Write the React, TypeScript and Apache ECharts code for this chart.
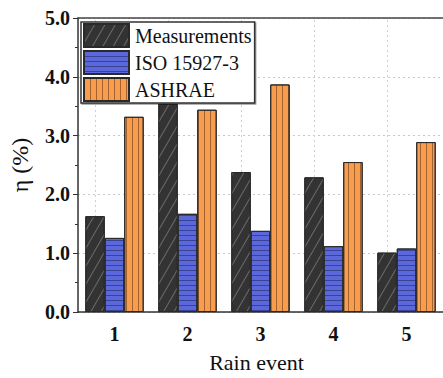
import React, { useEffect, useRef } from "react";
import * as echarts from "echarts";

const categories = ["1", "2", "3", "4", "5"];
const measurements = [1.63, 3.54, 2.38, 2.29, 1.01];
const iso = [1.26, 1.67, 1.38, 1.12, 1.08];
const ashrae = [3.32, 3.44, 3.87, 2.55, 2.89];
const seriesNames = ["Measurements", "ISO 15927-3", "ASHRAE"];

const FONT = "Liberation Serif";

export default function App() {
  const ref = useRef<HTMLDivElement>(null);
  useEffect(() => {
    if (!ref.current) return;
    const chart = echarts.init(ref.current, undefined, { renderer: "svg" });
    const border = { borderColor: "#2a2a2a", borderWidth: 1 };
    chart.setOption({
      animation: false,
      backgroundColor: "#ffffff",
      textStyle: { fontFamily: FONT },
      grid: { left: 76, top: 18, bottom: 58, right: -8, containLabel: false },
      legend: {
        left: 81,
        top: 22,
        orient: "vertical",
        icon: "rect",
        itemWidth: 45,
        itemHeight: 23,
        itemGap: 2,
        padding: [1, 3, 1, 2],
        borderColor: "#333",
        borderWidth: 1.5,
        backgroundColor: "#fff",
        shadowColor: "rgba(0,0,0,0.4)",
        shadowOffsetX: 1,
        shadowOffsetY: 1,
        shadowBlur: 0,
        textStyle: { fontFamily: FONT, fontSize: 20, color: "#111", padding: [0, 0, 0, 1] },
        data: seriesNames,
      },
      xAxis: [
        {
          type: "category",
          data: categories,
          position: "bottom",
          axisLine: { lineStyle: { color: "#333", width: 1.5 } },
          axisTick: { alignWithLabel: true, length: 5, lineStyle: { color: "#333" } },
          axisLabel: { fontFamily: FONT, fontSize: 20, fontWeight: "bold", color: "#111", margin: 12 },
          name: "Rain event",
          nameLocation: "middle",
          nameGap: 39,
          nameTextStyle: { fontFamily: FONT, fontSize: 22, color: "#111", padding: [0, 0, 0, -8] },
          splitLine: { show: false },
        },
        {
          type: "category",
          data: categories,
          position: "top",
          axisLine: { lineStyle: { color: "#444", width: 1.5 } },
          axisTick: { show: false },
          axisLabel: { show: false },
        },
      ],
      yAxis: {
        type: "value",
        min: 0,
        max: 5,
        interval: 1,
        axisLine: { show: true, lineStyle: { color: "#333", width: 1.5 } },
        axisTick: { show: true, length: 5, lineStyle: { color: "#333" } },
        minorTick: { show: true, splitNumber: 2, length: 3, lineStyle: { color: "#333" } },
        axisLabel: {
          fontFamily: FONT,
          fontSize: 20,
          fontWeight: "bold",
          color: "#111",
          margin: 8,
          formatter: (v: number) => v.toFixed(1),
        },
        splitLine: { show: true, lineStyle: { color: "#c8c8c8", type: [2, 3], width: 1 } },
        name: "η (%)",
        nameLocation: "middle",
        nameGap: 46,
        nameTextStyle: { fontFamily: FONT, fontSize: 24, color: "#111" },
      },
      series: [
        {
          name: seriesNames[0],
          type: "bar",
          data: measurements,
          barGap: "0%",
          barCategoryGap: "20%",
          itemStyle: {
            color: "#333333",
            ...border,
            decal: {
              symbol: "rect",
              dashArrayX: [1, 0],
              dashArrayY: [1, 8],
              rotation: -Math.PI / 3,
              color: "rgba(120,120,120,0.8)",
              symbolSize: 1,
            },
          },
          markLine: {
            silent: true,
            symbol: "none",
            label: { show: false },
            lineStyle: { color: "#d0d0d0", type: [2, 3], width: 1 },
            data: categories.map((c) => ({ xAxis: c })),
            z: 0,
          },
        },
        {
          name: seriesNames[1],
          type: "bar",
          data: iso,
          itemStyle: {
            color: "#5a68dc",
            ...border,
            decal: {
              symbol: "rect",
              dashArrayX: [1, 0],
              dashArrayY: [1, 4],
              color: "rgba(20,20,60,0.45)",
              symbolSize: 1,
            },
          },
        },
        {
          name: seriesNames[2],
          type: "bar",
          data: ashrae,
          itemStyle: {
            color: "#f89d4d",
            ...border,
            decal: {
              symbol: "rect",
              dashArrayX: [1, 5],
              dashArrayY: [1, 0],
              color: "rgba(90,50,20,0.55)",
              symbolSize: 1,
            },
          },
        },
      ],
    });
    return () => chart.dispose();
  }, []);
  return <div ref={ref} style={{ width: 443, height: 378, position: "absolute", left: 0, top: 0 }} />;
}
